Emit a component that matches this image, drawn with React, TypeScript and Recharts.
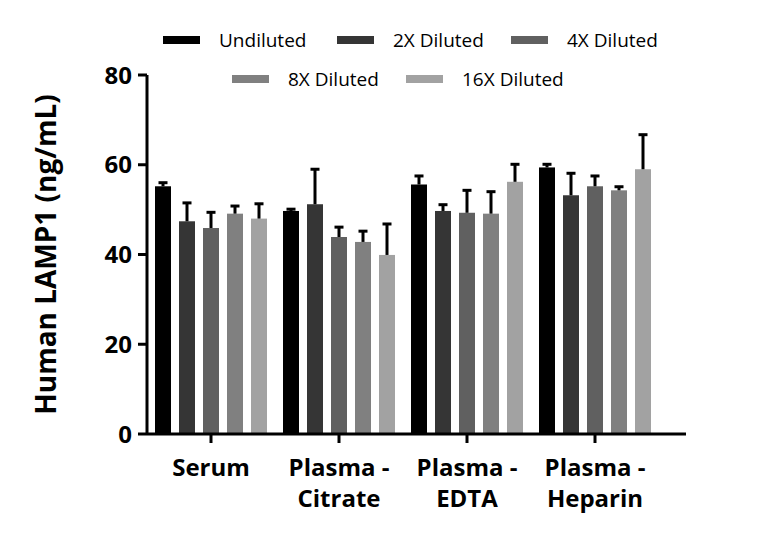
import React from "react";
import { BarChart, Bar, XAxis, YAxis } from "recharts";

const groups = ["Serum", "Plasma - Citrate", "Plasma - EDTA", "Plasma - Heparin"];
const seriesNames = ["Undiluted", "2X Diluted", "4X Diluted", "8X Diluted", "16X Diluted"];
const seriesColors = ["#000000", "#353535", "#606060", "#808080", "#a2a2a2"];

const undiluted = [55.2, 49.7, 55.6, 59.4];
const undilutedErr = [0.8, 0.4, 1.9, 0.7];
const x2 = [47.4, 51.2, 49.7, 53.2];
const x2Err = [4.1, 7.8, 1.4, 4.9];
const x4 = [45.9, 43.9, 49.3, 55.2];
const x4Err = [3.5, 2.2, 5.0, 2.3];
const x8 = [49.1, 42.8, 49.1, 54.3];
const x8Err = [1.7, 2.4, 4.9, 0.8];
const x16 = [48.0, 39.9, 56.2, 59.0];
const x16Err = [3.3, 6.9, 3.9, 7.7];

const yTicks = [0, 20, 40, 60, 80];

const values = [undiluted, x2, x4, x8, x16];
const errors = [undilutedErr, x2Err, x4Err, x8Err, x16Err];

const data = groups.map((g, i) => {
  const row: any = { name: g };
  values.forEach((v, s) => {
    row["s" + s] = v[i];
    row["e" + s] = errors[s][i];
  });
  return row;
});

const FONT = "'Open Sans', sans-serif";

// bar plus an upper-only error bar, scaled from the bar's own pixel height
const makeShape = (s: number) => (props: any) => {
  const { x, y, width, height, fill, payload } = props;
  const val = payload["s" + s];
  const err = payload["e" + s];
  const errPx = val ? (height * err) / val : 0;
  const cx = x + width / 2;
  return (
    <g>
      <rect x={x} y={y} width={width} height={height} fill={fill} />
      <line x1={cx} y1={y} x2={cx} y2={y - errPx} stroke="#000" strokeWidth={3} />
      <line x1={cx - 4.5} y1={y - errPx} x2={cx + 4.5} y2={y - errPx} stroke="#000" strokeWidth={3} />
    </g>
  );
};

const XTick = (props: any) => {
  const { x, y, payload } = props;
  const parts = String(payload.value).split(" - ");
  const lines = parts.length > 1 ? [parts[0] + " -", parts[1]] : parts;
  return (
    <text x={x} y={y + 31} textAnchor="middle" fontFamily={FONT} fontWeight={700} fontSize={24} fill="#000">
      {lines.map((l, i) => (
        <tspan key={i} x={x} dy={i === 0 ? 0 : 31}>
          {l}
        </tspan>
      ))}
    </text>
  );
};

const legendRows = [
  { left: 163, items: [0, 1, 2] },
  { left: 232, items: [3, 4] },
];

export default function App() {
  return (
    <div style={{ position: "absolute", left: 0, top: 0, width: 768, height: 539, background: "#fff" }}>
      <BarChart
        width={768}
        height={539}
        data={data}
        margin={{ top: 75, right: 82, bottom: 0, left: 87 }}
        barCategoryGap={8}
        barGap={8}
      >
        <XAxis
          dataKey="name"
          height={105}
          axisLine={{ stroke: "#000", strokeWidth: 3 }}
          tickLine={{ stroke: "#000", strokeWidth: 3 }}
          tickSize={9}
          tick={<XTick />}
          interval={0}
          padding={{ left: 0, right: 27 }}
        />
        <YAxis
          width={60}
          domain={[0, 80]}
          ticks={yTicks}
          axisLine={{ stroke: "#000", strokeWidth: 3 }}
          tickLine={{ stroke: "#000", strokeWidth: 3 }}
          tickSize={9}
          tickMargin={6}
          tick={{ fill: "#000", fontSize: 24, fontWeight: 700, fontFamily: FONT }}
          label={{
            value: "Human LAMP1 (ng/mL)",
            angle: -90,
            position: "insideLeft",
            dx: -46,
            style: { textAnchor: "middle", fontSize: 28, fontWeight: 700, fontFamily: FONT, fill: "#000" },
          }}
        />
        {seriesNames.map((n, s) => (
          <Bar
            key={n}
            dataKey={"s" + s}
            name={n}
            fill={seriesColors[s]}
            shape={makeShape(s)}
            isAnimationActive={false}
          />
        ))}
      </BarChart>
      {legendRows.map((row, r) => (
        <div
          key={r}
          style={{ position: "absolute", left: row.left, top: 27 + r * 39, display: "flex", fontFamily: FONT, fontSize: 19 }}
        >
          {row.items.map((s) => (
            <div key={s} style={{ width: 174, display: "flex", alignItems: "center", height: 26 }}>
              <div style={{ width: 37, height: 8, background: seriesColors[s], marginRight: 19 }} />
              <span>{seriesNames[s]}</span>
            </div>
          ))}
        </div>
      ))}
    </div>
  );
}
